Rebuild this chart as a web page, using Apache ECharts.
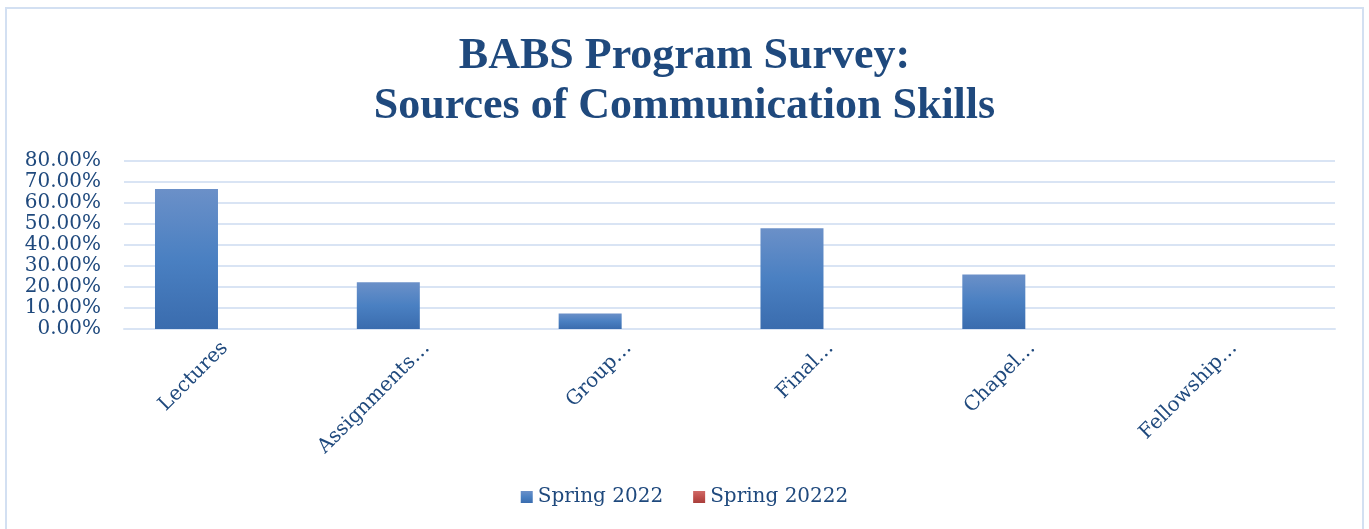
<!DOCTYPE html>
<html>
<head>
<meta charset="utf-8">
<script src="https://cdn.jsdelivr.net/npm/echarts@6/dist/echarts.min.js"></script>
<style>
  html, body { margin: 0; padding: 0; background: #fff; }
  #chart { width: 1369px; height: 529px; }
</style>
</head>
<body>
<div id="chart"></div>
<script>
// Survey categories (long names are shortened with an ellipsis)
const categories = ['Lectures', 'Assignments…', 'Group…', 'Final…', 'Chapel…', 'Fellowship…'];
// Share of respondents, in percent
const spring2022 = [66.67, 22.22, 7.41, 48.0, 26.0, 0];
const spring20222 = [0, 0, 0, 0, 0, 0];
const seriesNames = ['Spring 2022', 'Spring 20222'];
const titleLines = ['BABS Program Survey:', 'Sources of Communication Skills'];

const textBlue = '#1f497d';
const gridBlue = '#d9e4f4';
const serif = '"DejaVu Serif", "Liberation Serif", serif';

function grad(top, mid, bottom) {
  return new echarts.graphic.LinearGradient(0, 0, 0, 1, [
    { offset: 0, color: top },
    { offset: 0.5, color: mid },
    { offset: 1, color: bottom }
  ]);
}

const chart = echarts.init(document.getElementById('chart'));
chart.setOption({
  animation: false,
  backgroundColor: '#ffffff',
  graphic: [{
    type: 'rect',
    shape: { x: 6, y: 8, width: 1357, height: 540 },
    style: { fill: 'none', stroke: '#d3e0f2', lineWidth: 2 },
    silent: true
  }],
  title: {
    text: titleLines.join('\n'),
    left: 'center',
    top: 27,
    textStyle: {
      fontFamily: '"Liberation Serif", serif',
      fontWeight: 'bold',
      fontSize: 44,
      lineHeight: 50,
      color: textBlue
    }
  },
  legend: {
    bottom: 17,
    left: 'center',
    itemWidth: 12,
    itemHeight: 12,
    itemGap: 30,
    icon: 'rect',
    textStyle: { fontFamily: serif, fontSize: 20, color: textBlue },
    data: seriesNames
  },
  grid: { left: 124, right: 34, top: 161, bottom: 200, containLabel: false },
  xAxis: {
    type: 'category',
    data: categories,
    axisLine: { show: true, lineStyle: { color: gridBlue, width: 2 } },
    axisTick: { show: false },
    axisLabel: {
      rotate: 45,
      margin: 16,
      interval: 0,
      fontFamily: serif,
      fontSize: 20,
      color: textBlue,
      padding: [0, 0, 0, 0]
    }
  },
  yAxis: {
    type: 'value',
    min: 0,
    max: 80,
    interval: 10,
    axisLine: { show: false },
    axisTick: { show: false },
    splitLine: { lineStyle: { color: gridBlue, width: 2 } },
    axisLabel: {
      margin: 23,
      fontFamily: serif,
      fontSize: 20,
      color: textBlue,
      formatter: v => v.toFixed(2) + '%'
    }
  },
  series: [
    {
      name: seriesNames[0],
      type: 'bar',
      data: spring2022,
      barWidth: 63,
      barGap: '22%',
      itemStyle: { color: grad('#6b90c8', '#4a80c2', '#3a6cae') }
    },
    {
      name: seriesNames[1],
      type: 'bar',
      data: spring20222,
      barWidth: 63,
      itemStyle: { color: grad('#d06a67', '#c0504d', '#a83e3b') }
    }
  ]
});
</script>
</body>
</html>
